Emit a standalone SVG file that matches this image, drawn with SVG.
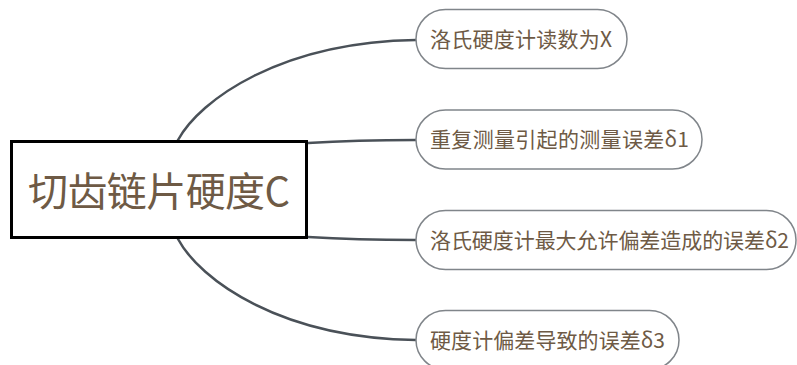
<svg xmlns="http://www.w3.org/2000/svg" width="797" height="365" viewBox="0 0 797 365">
<style>
.conn{fill:none;stroke:#4a5158;stroke-width:2.5;stroke-linecap:round}
.leaf rect{fill:#ffffff;stroke:#80858a;stroke-width:1.5}
.leaf text{font-family:"Noto Sans CJK SC","Microsoft YaHei",sans-serif;font-size:21px;fill:#6e5a45}
.root rect{fill:#ffffff;stroke:#000000;stroke-width:3}
.root text{font-family:"Noto Sans CJK SC","Microsoft YaHei",sans-serif;font-size:40px;fill:#6e5a45}
</style>
<rect width="797" height="365" fill="#ffffff"/>
<g id="connectors">
<path class="conn" d="M178,140 C200,100 280,42 416,40"/>
<path class="conn" d="M308,143 C340,141 380,140 416,140"/>
<path class="conn" d="M308,237 C340,239 380,240 416,240"/>
<path class="conn" d="M178,239 C200,280 280,338 416,340"/>
</g>
<g id="root" class="root">
<rect x="11.5" y="141.5" width="295" height="96"/>
<text x="159" y="206" text-anchor="middle" textLength="262" lengthAdjust="spacing">切齿链片硬度C</text>
</g>
<g id="node1" class="leaf">
<rect x="416" y="9.5" width="211" height="59" rx="29.5"/>
<text x="430" y="47" textLength="182" lengthAdjust="spacing">洛氏硬度计读数为X</text>
</g>
<g id="node2" class="leaf">
<rect x="416" y="110" width="286" height="59" rx="29.5"/>
<text x="430" y="147" textLength="259" lengthAdjust="spacing">重复测量引起的测量误差δ1</text>
</g>
<g id="node3" class="leaf">
<rect x="416" y="210.5" width="380" height="59" rx="29.5"/>
<text x="430" y="248" textLength="359" lengthAdjust="spacing">洛氏硬度计最大允许偏差造成的误差δ2</text>
</g>
<g id="node4" class="leaf">
<rect x="416" y="310.5" width="263" height="59" rx="29.5"/>
<text x="430" y="348" textLength="235" lengthAdjust="spacing">硬度计偏差导致的误差δ3</text>
</g>
</svg>
